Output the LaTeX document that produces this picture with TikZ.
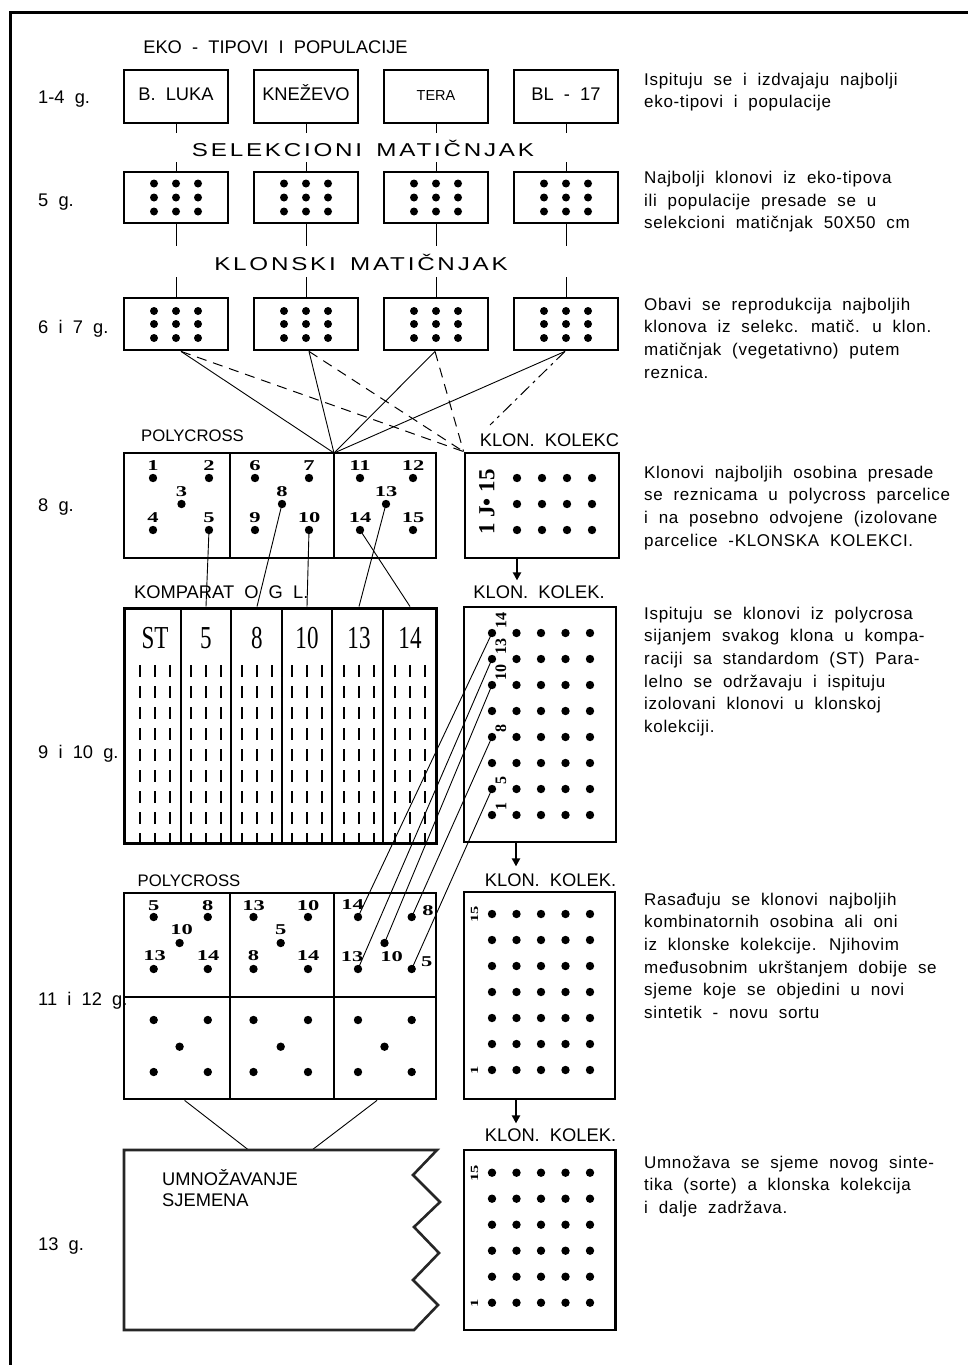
\documentclass[tikz,border=0pt]{standalone}
\usepackage{fontspec}
\setmainfont{Liberation Sans}[WordSpace=2]
\newfontfamily\rfont{Liberation Sans}[LetterSpace=4,WordSpace=2]
\newfontfamily\wfont{Liberation Sans}[FakeStretch=1.3,LetterSpace=15,WordSpace=1.5]
\newfontfamily\nfont{Liberation Serif}[FakeStretch=1.5]
\newfontfamily\hfont{Liberation Serif}[FakeStretch=0.72]
\newfontfamily\sfont{Liberation Serif}
\usetikzlibrary{arrows.meta}
\newcommand\rblock[3]{\foreach \txt [count=\i] in {#3} {\node[rtext,anchor=base west] (#1-\i) at (644,{#2+22.7*(\i-1)}) {\txt};}}
\begin{document}
\begin{tikzpicture}[x=1pt,y=-1pt,
  box/.style={draw,line width=2.8pt,inner sep=0pt},
  conn/.style={line width=0.9pt},
  dsh/.style={line width=1pt,dash pattern=on 10pt off 7pt},
  ddot/.style={line width=1pt,dash pattern=on 12pt off 5pt on 3pt off 5pt},
  arr/.style={line width=2pt,-{Triangle[length=8pt,width=8pt]}},
  lab/.style={inner sep=0pt,font=\fontsize{18.3}{22}\selectfont},
  rtext/.style={inner sep=0pt,font=\rfont\fontsize{17}{22}\selectfont},
  num/.style={inner sep=0pt,font=\nfont\bfseries\fontsize{15}{16}\selectfont},
  rnum/.style={inner sep=0pt,rotate=90,font=\sfont\bfseries\fontsize{16}{17}\selectfont},
  snum/.style={inner sep=0pt,rotate=90,font=\nfont\bfseries\fontsize{11}{12}\selectfont},
  hdr/.style={inner sep=0pt,font=\hfont\fontsize{32}{34}\selectfont},
  wide/.style={inner sep=0pt,font=\wfont\fontsize{18.6}{22}\selectfont},
  cmpdash/.style={line width=2.4pt,dash pattern=on 12pt off 9pt},
  tb/.style={text height=10pt,text depth=3pt}
]
\fill[white] (0,0) rectangle (968,1365);
\useasboundingbox (0,0) rectangle (968,1365);
% frame
\draw[line width=3pt] (10,1366) -- (10,12) -- (969,12);

% year labels
\node[lab,anchor=base west] (y1) at (38,103) {1-4 g.};
\node[lab,anchor=base west] (y2) at (38,206) {5 g.};
\node[lab,anchor=base west] (y3) at (38,333) {6 i 7 g.};
\node[lab,anchor=base west] (y4) at (38,511) {8 g.};
\node[lab,anchor=base west] (y5) at (38,758) {9 i 10 g.};
\node[lab,anchor=base west] (y6) at (38,1005) {11 i 12 g.};
\node[lab,anchor=base west] (y7) at (38,1250) {13 g.};

% row 1
\node[lab,anchor=base] (t0) at (275.5,53) {EKO - TIPOVI I POPULACIJE};
\node[box,tb,minimum width=104pt,minimum height=53pt,font=\fontsize{18.3}{22}\selectfont] (e1) at (176,96.5) {B. LUKA};
\node[box,tb,minimum width=104pt,minimum height=53pt,font=\fontsize{18.3}{22}\selectfont] (e2) at (306,96.5) {KNEŽEVO};
\node[box,tb,minimum width=104pt,minimum height=53pt,font=\fontsize{14.5}{16}\selectfont] (e3) at (436,96.5) {TERA};
\node[box,tb,minimum width=104pt,minimum height=53pt,font=\fontsize{18.3}{22}\selectfont] (e4) at (566,96.5) {BL - 17};

% row 2
\node[wide,anchor=base] (sel) at (363,156.7) {SELEKCIONI MATIČNJAK};
\foreach \n/\x in {1/176,2/306,3/436,4/566}{
  \node[box,minimum width=104pt,minimum height=51pt] (s\n) at (\x,197.5) {};
  \draw[conn] (e\n.south) -- ++(0,9);
  \draw[conn] (s\n.north) -- ++(0,-9);
  \foreach \dx in {-22,0,22} \foreach \dy in {-14,0,14} \fill (\x+\dx,197.5+\dy) circle (4pt);
}
% row 3
\node[wide,anchor=base] (klm) at (361,270) {KLONSKI MATIČNJAK};
\foreach \n/\x in {1/176,2/306,3/436,4/566}{
  \node[box,minimum width=104pt,minimum height=52pt] (m\n) at (\x,324) {};
  \draw[conn] (s\n.south) -- ++(0,22);
  \draw[conn] (m\n.north) -- ++(0,-20);
  \foreach \dx in {-22,0,22} \foreach \dy in {-13,0,14} \fill (\x+\dx,324+\dy) circle (4pt);
}

% row 4: polycross 1
\node[lab,anchor=base,font=\fontsize{16.7}{20}\selectfont] (pc1l) at (192.5,441.7) {POLYCROSS};
\node[box,minimum width=312pt,minimum height=105pt] (pc1) at (280,505.5) {};
\draw[line width=2.8pt] (230,453) -- (230,558);
\draw[line width=2.8pt] (334,453) -- (334,558);
\foreach \x/\y/\n in {153/478/1,209/478/2,181.5/504/3,153/530/4,209/530/5,
  255/478/6,309/478/7,282/504/8,255/530/9,309/530/10,
  360/478/11,413/478/12,386/504/13,360/530/14,413/530/15}{
  \fill (\x,\y) circle (4.2pt);
  \coordinate (pd\n) at (\x,\y);
  \node[num] (pa\n) at (\x,\y-12.5) {\n};
}
% klon kolekc 1
\node[lab,anchor=base] (kk1l) at (549.5,446.7) {KLON. KOLEKC};
\node[box,minimum width=154pt,minimum height=105pt] (kk1) at (542,505.5) {};
\foreach \x in {517,542,567,592} \foreach \y in {478,504,530} \fill (\x,\y) circle (4.2pt);
\node[inner sep=0pt,rotate=90,font=\sfont\bfseries\fontsize{23}{24}\selectfont] (kk1t) at (487,502) {1 J• 15};
\draw[arr] ([xshift=-25pt]kk1.south) -- ++(0,21);

% connectors row 3 -> row 4
\coordinate (pctop) at (334,453);
\coordinate (ddend) at (490,425);
\draw[conn] ([xshift=5pt]m1.south) -- (pctop);
\draw[conn] ([xshift=3pt]m2.south) -- (pctop);
\draw[conn] ([xshift=-1pt]m3.south) -- (pctop);
\draw[conn] ([xshift=-1pt]m4.south) -- (pctop);
\draw[dsh] ([xshift=5pt]m1.south) -- (kk1.north west);
\draw[dsh] ([xshift=3pt]m2.south) -- (kk1.north west);
\draw[dsh] ([xshift=-1pt]m3.south) -- (kk1.north west);
\draw[ddot] ([xshift=-1pt]m4.south) -- (ddend);

% row 5: comparat
\node[lab,anchor=base west] (kmp) at (134,598.3) {KOMPARAT O G L.};
\node[lab,anchor=base] (kk2l) at (539,598.3) {KLON. KOLEK.};
\node[box,line width=3pt,minimum width=312pt,minimum height=235pt] (cmp) at (280,725.5) {};
\foreach \x in {181,231,282,332,383} \draw[line width=2.8pt] (\x,608) -- (\x,843);
\foreach \x/\t in {155/ST,206/5,257/8,307/10,359/13,410/14}{
  \node[hdr,anchor=base] (h\t) at (\x,648.3) {\t};
  \foreach \d in {-15,0,15} \draw[cmpdash] (\x+\d,665) -- (\x+\d,843);
}
\draw[conn] (pd5) -- (h5 |- cmp.north);
\draw[conn] (pd8) -- (h8 |- cmp.north);
\draw[conn] (pd10) -- (h10 |- cmp.north);
\draw[conn] (pd13) -- (h13 |- cmp.north);
\draw[conn] (pd14) -- (h14 |- cmp.north);

% klon kolek 2
\node[box,minimum width=152pt,minimum height=235pt] (kk2) at (540,724.5) {};
\foreach \i in {0,...,4} \foreach \j in {0,...,7} \fill ({492+24.5*\i},{633+26*\j}) circle (4.2pt);
\foreach \j/\t in {0/14,1/13,2/10,4/8,6/5,7/1} \node[rnum,anchor=west] (r\t) at (501,{633+26*\j-4}) {\t};
\coordinate (c0) at (492,633);
\coordinate (c1) at (492,659);
\coordinate (c2) at (492,685);
\coordinate (c4) at (492,737);
\coordinate (c6) at (492,789);
\draw[arr] ([xshift=-24pt]kk2.south) -- ++(0,23);

% row 6: polycross 2
\node[lab,anchor=base,font=\fontsize{16.7}{20}\selectfont] (pc2l) at (189,886.7) {POLYCROSS};
\node[lab,anchor=base] (kk3l) at (550.5,886.7) {KLON. KOLEK.};
\node[box,minimum width=312pt,minimum height=206pt] (pc2) at (280,996) {};
\draw[line width=2.8pt] (124,997) -- (436,997);
\draw[line width=2.8pt] (230,893) -- (230,1099);
\draw[line width=2.8pt] (334,893) -- (334,1099);
\foreach \l/\r/\c in {153.7/207.8/179.6,253.5/308/280.7,358/411.7/384.5}{
  \fill (\l,917) circle (4.2pt); \fill (\r,917) circle (4.2pt);
  \fill (\c,943) circle (4.2pt);
  \fill (\l,969) circle (4.2pt); \fill (\r,969) circle (4.2pt);
  \fill (\l,1020) circle (4.2pt); \fill (\r,1020) circle (4.2pt);
  \fill (\c,1046.7) circle (4.2pt);
  \fill (\l,1072) circle (4.2pt); \fill (\r,1072) circle (4.2pt);
}
\foreach \x/\y/\t/\k in {153.7/906/5/a,207.8/906/8/b,181.5/930/10/c,154.5/956/13/d,208.2/956/14/e,
  253.5/906/13/f,308/906/10/g,280.7/930/5/h,253.5/956/8/i,308/956/14/j,
  352.5/905/14/k,428/911/8/l,391.7/957/10/m,352/957/13/n,426.7/962/5/o}
  \node[num] (pb\k) at (\x,\y) {\t};
\coordinate (q14) at (358,917);
\coordinate (q8) at (411.7,917);
\coordinate (q10) at (384.5,943);
\coordinate (q13) at (358,969);
\coordinate (q5) at (411.7,969);
\draw[conn] (c0) -- (q14);
\draw[conn] (c1) -- (q13);
\draw[conn] (c2) -- (q10);
\draw[conn] (c4) -- (q8);
\draw[conn] (c6) -- (q5);

% klon kolek 3
\node[box,minimum width=151pt,minimum height=207pt] (kk3) at (539.5,995.5) {};
\foreach \i in {0,...,4} \foreach \j in {0,...,6} \fill ({492+24.5*\i},{914+26*\j}) circle (4.2pt);
\node[snum] (k3a) at (474.5,914) {15};
\node[snum] (k3b) at (474.5,1070) {1};
\draw[arr] ([xshift=-23.5pt]kk3.south) -- ++(0,23);

% row 7
\coordinate (u1) at (248.6,1150);
\coordinate (u2) at (312,1150);
\draw[conn] ([xshift=-95.4pt]pc2.south) -- (u1);
\draw[conn] ([xshift=97pt]pc2.south) -- (u2);
\draw[line width=2.6pt,black!85,line join=miter] (124,1150) -- (437,1150) -- (413,1175) -- (440,1202) -- (414,1227) -- (439,1253) -- (413,1280) -- (438,1305) -- (414,1330) -- (124,1330) -- cycle;
\node[lab,anchor=base west] (um1) at (162,1185) {UMNOŽAVANJE};
\node[lab,anchor=base west] (um2) at (162,1206.7) {SJEMENA};
\node[lab,anchor=base] (kk4l) at (550.5,1141.7) {KLON. KOLEK.};
\node[box,minimum width=151.6pt,minimum height=180pt] (kk4) at (539.8,1240) {};
\foreach \i in {0,...,4} \foreach \j in {0,...,5} \fill ({492+24.5*\i},{1172.7+26*\j}) circle (4.2pt);
\node[snum] (k4a) at (474.5,1173) {15};
\node[snum] (k4b) at (474.5,1303) {1};

% right text
\rblock{b1}{85}{{Ispituju se i izdvajaju najbolji},{eko-tipovi i populacije}}
\rblock{b2}{183.3}{{Najbolji klonovi iz eko-tipova},{ili populacije presade se u},{selekcioni matičnjak 50X50 cm}}
\rblock{b3}{310}{{Obavi se reprodukcija najboljih},{klonova iz selekc. matič. u klon.},{matičnjak (vegetativno) putem},{reznica.}}
\rblock{b4}{478}{{Klonovi najboljih osobina presade},{se reznicama u polycross parcelice},{i na posebno odvojene (izolovane},{parcelice -KLONSKA KOLEKCI.}}
\rblock{b5}{619}{{Ispituju se klonovi iz polycrosa},{sijanjem svakog klona u kompa-},{raciji sa standardom (ST) Para-},{lelno se održavaju i ispituju},{izolovani klonovi u klonskoj},{kolekciji.}}
\rblock{b6}{905}{{Rasađuju se klonovi najboljih},{kombinatornih osobina ali oni},{iz klonske kolekcije. Njihovim},{međusobnim ukrštanjem dobije se},{sjeme koje se objedini u novi},{sintetik - novu sortu}}
\rblock{b7}{1168}{{Umnožava se sjeme novog sinte-},{tika (sorte) a klonska kolekcija},{i dalje zadržava.}}
\end{tikzpicture}
\end{document}
